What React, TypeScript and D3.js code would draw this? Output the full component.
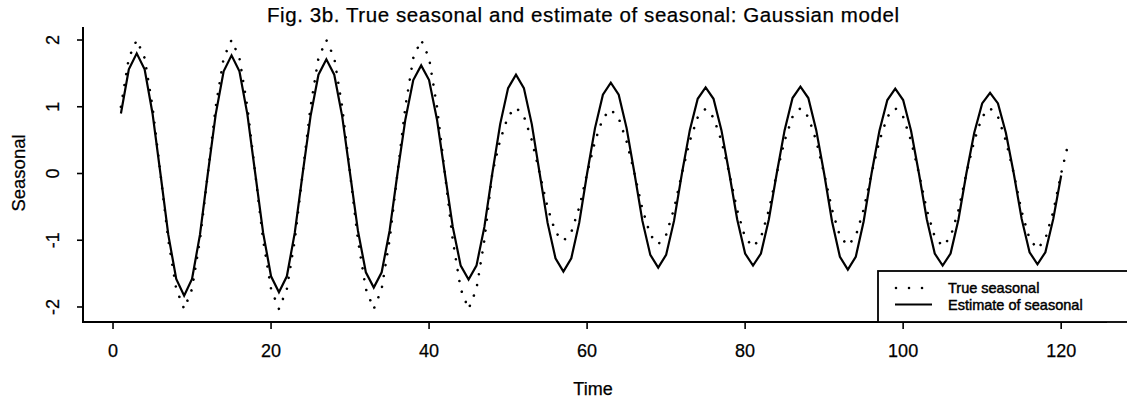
import React from "react";
import * as d3 from "d3";

const TITLE = "Fig. 3b. True seasonal and estimate of seasonal: Gaussian model";
const X_LABEL = "Time";
const Y_LABEL = "Seasonal";
const X_TICKS = [0, 20, 40, 60, 80, 100, 120];
const Y_TICKS = [-2, -1, 0, 1, 2];
const LEGEND_LABELS = ["True seasonal", "Estimate of seasonal"];

// True seasonal, t = 1..121
const trueSeasonal = [
  1, 1.73, 2, 1.73, 1, 0, -1, -1.73, -2.03, -1.73, -1, 0,
  1, 1.73, 2, 1.73, 1, 0, -1, -1.73, -2.03, -1.73, -1, 0,
  1, 1.73, 2, 1.73, 1, 0, -1, -1.73, -2.03, -1.73, -1, 0,
  1, 1.73, 2, 1.73, 1, 0, -1, -1.73, -2.03, -1.73, -1, 0,
  0.5, 0.86, 0.99, 0.86, 0.5, 0, -0.51, -0.88, -1.01, -0.88, -0.51, 0,
  0.48, 0.83, 0.96, 0.83, 0.48, 0, -0.53, -0.92, -1.06, -0.92, -0.53, 0,
  0.49, 0.84, 0.97, 0.84, 0.49, 0, -0.55, -0.96, -1.1, -0.96, -0.55, 0,
  0.49, 0.85, 0.98, 0.85, 0.49, 0, -0.54, -0.94, -1.08, -0.94, -0.54, 0,
  0.49, 0.85, 0.98, 0.85, 0.49, 0, -0.55, -0.95, -1.09, -0.95, -0.55, 0,
  0.49, 0.85, 0.98, 0.85, 0.49, 0, -0.57, -0.98, -1.13, -0.98, -0.57, 0,
  0.5,
];

// Estimate of seasonal, t = 1..120
const estimateSeasonal = [
  0.9, 1.56, 1.8, 1.56, 0.9, 0, -0.92, -1.58, -1.83, -1.58, -0.92, 0,
  0.89, 1.53, 1.77, 1.53, 0.89, 0, -0.89, -1.54, -1.78, -1.54, -0.89, 0,
  0.86, 1.48, 1.71, 1.48, 0.86, 0, -0.86, -1.48, -1.71, -1.48, -0.86, 0,
  0.81, 1.4, 1.62, 1.4, 0.81, 0, -0.8, -1.38, -1.59, -1.38, -0.8, 0,
  0.74, 1.28, 1.48, 1.28, 0.74, 0, -0.74, -1.27, -1.47, -1.27, -0.74, 0,
  0.68, 1.18, 1.36, 1.18, 0.68, 0, -0.71, -1.22, -1.41, -1.22, -0.71, 0,
  0.65, 1.12, 1.29, 1.12, 0.65, 0, -0.69, -1.2, -1.38, -1.2, -0.69, 0,
  0.65, 1.13, 1.3, 1.13, 0.65, 0, -0.72, -1.25, -1.44, -1.25, -0.72, 0,
  0.64, 1.1, 1.27, 1.1, 0.64, 0, -0.69, -1.2, -1.38, -1.2, -0.69, 0,
  0.61, 1.05, 1.21, 1.05, 0.61, 0, -0.68, -1.18, -1.36, -1.18, -0.68, -0.03,
];

const W = 1127;
const H = 404;
const FONT = "'Liberation Sans', Arial, Helvetica, sans-serif";

export default function App() {
  const plotLeft = 83;
  const plotRight = 1107;
  const plotTop = 27;
  const plotBottom = 322;

  const x = d3.scaleLinear().domain([-3.8, 125.8]).range([plotLeft, plotRight]);
  const y = d3.scaleLinear().domain([-2.225, 2.195]).range([plotBottom, plotTop]);

  const line = d3
    .line<number>()
    .x((_, i) => x(i + 1))
    .y((d) => y(d));

  const truePath = line(trueSeasonal) || "";
  const estPath = line(estimateSeasonal) || "";

  const legX = 878;
  const legY = 271;

  return (
    <svg
      width={W}
      height={H}
      style={{ position: "absolute", left: 0, top: 0, background: "#fff" }}
      fontFamily={FONT}
    >
      <rect x={0} y={0} width={W} height={H} fill="#fff" />
      {/* title */}
      <text
        x={583}
        y={22}
        textAnchor="middle"
        fontSize={20.5}
        textLength={632}
        lengthAdjust="spacing"
        fill="#000"
        stroke="#000"
        strokeWidth={0.25}
      >
        {TITLE}
      </text>

      {/* series */}
      <path
        d={truePath}
        fill="none"
        stroke="#000"
        strokeWidth={2.6}
        strokeDasharray="0.01 11"
        strokeLinecap="round"
      />
      <path d={estPath} fill="none" stroke="#000" strokeWidth={2.2} strokeLinejoin="miter" />

      {/* axes */}
      <line x1={plotLeft} x2={plotLeft} y1={plotTop} y2={plotBottom} stroke="#000" strokeWidth={2} />
      <line x1={plotLeft - 1} x2={plotRight} y1={plotBottom} y2={plotBottom} stroke="#000" strokeWidth={2.2} />
      {Y_TICKS.map((t) => (
        <g key={"y" + t}>
          <line x1={plotLeft - 6} x2={plotLeft} y1={y(t)} y2={y(t)} stroke="#000" strokeWidth={1.6} />
          <text
            transform={`translate(58.5, ${y(t)}) rotate(-90)`}
            textAnchor="middle"
            fontSize={18}
            fill="#000"
            stroke="#000"
            strokeWidth={0.25}
          >
            {String(t)}
          </text>
        </g>
      ))}
      {X_TICKS.map((t) => (
        <g key={"x" + t}>
          <line x1={x(t)} x2={x(t)} y1={plotBottom} y2={plotBottom + 7} stroke="#000" strokeWidth={1.6} />
          <text
            x={x(t)}
            y={357}
            textAnchor="middle"
            fontSize={18}
            fill="#000"
            stroke="#000"
            strokeWidth={0.25}
          >
            {String(t)}
          </text>
        </g>
      ))}
      <text x={593} y={395} textAnchor="middle" fontSize={18} fill="#000" stroke="#000" strokeWidth={0.25}>
        {X_LABEL}
      </text>
      <text
        transform={`translate(24.5, 173) rotate(-90)`}
        textAnchor="middle"
        fontSize={18.5}
        fill="#000"
        stroke="#000"
        strokeWidth={0.25}
      >
        {Y_LABEL}
      </text>

      {/* legend */}
      <rect
        x={legX}
        y={legY}
        width={W - legX + 10}
        height={plotBottom - legY}
        fill="#fff"
        stroke="#000"
        strokeWidth={1.8}
      />
      <line
        x1={896}
        x2={923}
        y1={288}
        y2={288}
        stroke="#000"
        strokeWidth={2.6}
        strokeDasharray="0.01 13"
        strokeLinecap="round"
      />
      <line x1={895} x2={932} y1={304.5} y2={304.5} stroke="#000" strokeWidth={2.2} />
      <text x={948} y={292.5} fontSize={14.5} fill="#000" stroke="#000" strokeWidth={0.45}>
        {LEGEND_LABELS[0]}
      </text>
      <text x={948} y={310} fontSize={14.5} fill="#000" stroke="#000" strokeWidth={0.45}>
        {LEGEND_LABELS[1]}
      </text>
    </svg>
  );
}
